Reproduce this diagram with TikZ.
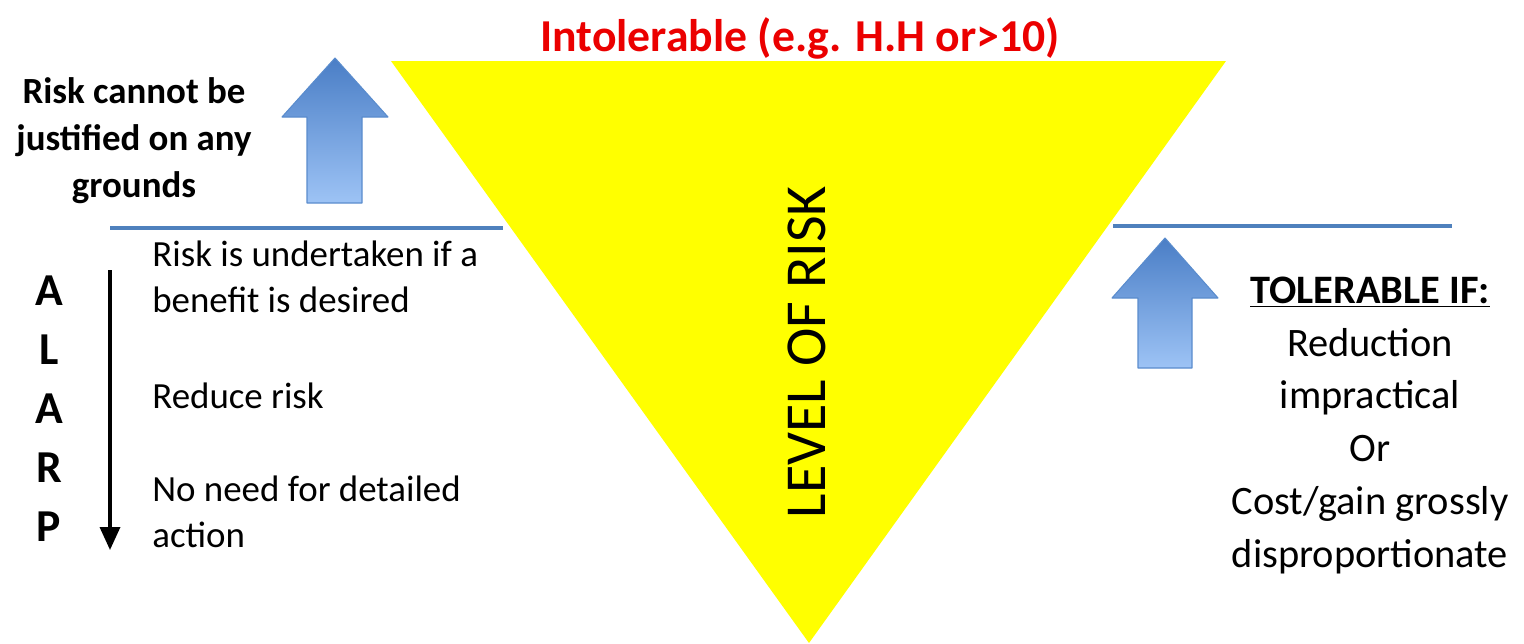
\documentclass[tikz,border=0pt]{standalone}
\usepackage{fontspec}
\setmainfont{Carlito}
\usepackage{xcolor}
\usepackage{tikz}
\usetikzlibrary{arrows.meta, positioning, calc}
\definecolor{riskyellow}{RGB}{255, 255, 0}
\definecolor{riskred}{RGB}{235, 0, 0}
\definecolor{lineblue}{RGB}{79, 129, 189}
\definecolor{arrowdark}{RGB}{74, 126, 198}
\definecolor{arrowlight}{RGB}{157, 195, 245}
\definecolor{arrowedge}{RGB}{90, 140, 205}
\tikzset{
    txt/.style={inner sep=0pt, font=\fontsize{21}{26}\selectfont},
    boldtxt/.style={inner sep=0pt, font=\fontsize{21}{26.5}\selectfont\bfseries},
    divider/.style={lineblue, line width=1.9pt},
    blockarrow/.style={top color=arrowdark, bottom color=arrowlight, draw=arrowedge, line width=0.6pt, line join=round},
}

\begin{document}
\begin{tikzpicture}[x=0.02cm, y=-0.02cm]
        \useasboundingbox (0,0) rectangle (1524,643);

        % Level of risk (inverted triangle)
        \fill[riskyellow] (391,61) -- (1226,61) -- (809,643) -- cycle;
        \node[rotate=90, inner sep=0pt, font=\fontsize{33}{39}\selectfont] (level) at (807,352) {LEVEL OF RISK};
        \node[inner sep=0pt, riskred, anchor=base, font=\fontsize{26}{31}\selectfont\bfseries] (intol) at (800,51) {Intolerable (e.g. H.H or>10)};

        % Upper left (not justified)
        \begin{scope}
            \node[boldtxt, align=center, anchor=base] (notjust) at (134,197) {Risk cannot be\\justified on any\\grounds};
            \path[blockarrow] (307,203) -- (307,117) -- (282,117) -- (335,58) -- (388,117) -- (362,117) -- (362,203) -- cycle;
            \coordinate (divL1) at (110,228);
            \coordinate (divL2) at (503,228);
            \draw[divider] (divL1) -- (divL2);
        \end{scope}

        % ALARP region
        \begin{scope}
            \node[inner sep=0pt, align=center, anchor=base, font=\fontsize{26}{33.5}\selectfont\bfseries] (alarp) at (49,541) {A\\L\\A\\R\\P};
            \coordinate (alarptop) at (110,270);
            \coordinate (alarpbot) at (110,550);
            \draw[line width=2pt, -{Triangle[length=0.46cm, width=0.4cm]}] (alarptop) -- (alarpbot);
            \node[txt, align=left, anchor=base west] (undertaken) at (152,312) {Risk is undertaken if a\\benefit is desired};
            \node[txt, anchor=base west] (reduce) at (152,408) {Reduce risk};
            \node[txt, align=left, anchor=base west] (noneed) at (152,547) {No need for detailed\\action};
        \end{scope}

        % Right side (tolerable if)
        \begin{scope}
            \coordinate (divR1) at (1113,226);
            \coordinate (divR2) at (1452,226);
            \draw[divider] (divR1) -- (divR2);
            \path[blockarrow] (1138,368) -- (1138,298) -- (1112,298) -- (1165,238) -- (1218,298) -- (1192,298) -- (1192,368) -- cycle;
            \node[inner sep=0pt, align=center, anchor=base, font=\fontsize{23}{30}\selectfont] (tolif) at (1370,567) {\textbf{\underline{TOLERABLE IF:}}\\Reduction\\impractical\\Or\\Cost/gain grossly\\disproportionate};
        \end{scope}
    \end{tikzpicture}
\end{document}
